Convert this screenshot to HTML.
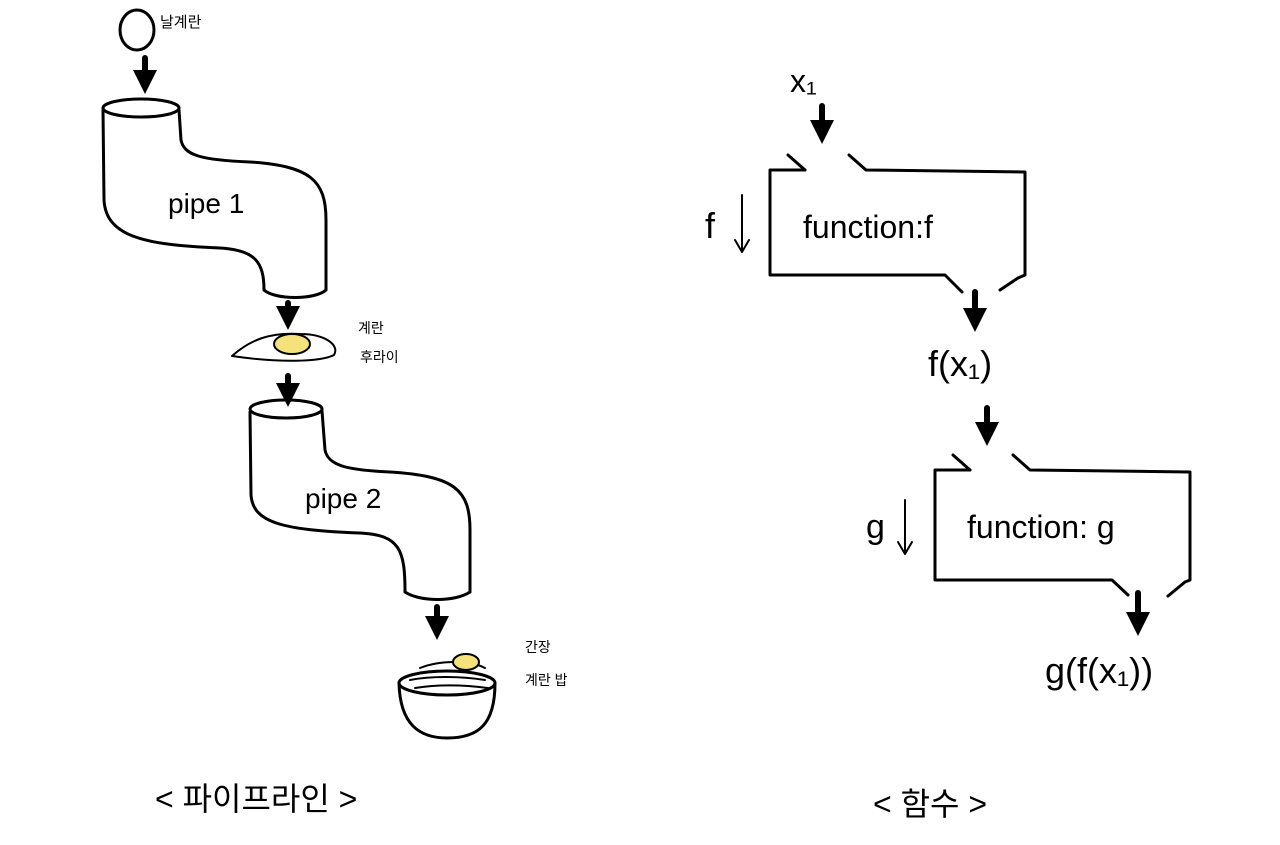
<!DOCTYPE html>
<html><head><meta charset="utf-8"><style>
html,body{margin:0;padding:0;background:#fff;}
svg{display:block}
text{font-family:"Liberation Sans","Noto Sans CJK KR",sans-serif;fill:#000}
</style></head><body>
<svg width="1280" height="845" viewBox="0 0 1280 845" xmlns="http://www.w3.org/2000/svg">
<defs>
<marker id="ah" markerWidth="4" markerHeight="4" refX="2" refY="2" orient="auto" markerUnits="strokeWidth">
<path d="M0,0 L4,2 L0,4 Z" fill="#000"/></marker>
</defs>
<g fill="none" stroke="#000" stroke-width="3" stroke-linecap="round" stroke-linejoin="round">
<!-- egg -->
<ellipse cx="137" cy="30" rx="17" ry="20"/>
<!-- thick arrows -->
<g stroke-width="6">
<line x1="145" y1="58" x2="145" y2="82" marker-end="url(#ah)"/>
<line x1="288" y1="303" x2="288" y2="318" marker-end="url(#ah)"/>
<line x1="288" y1="376" x2="288" y2="395" marker-end="url(#ah)"/>
<line x1="437" y1="607" x2="437" y2="628" marker-end="url(#ah)"/>
<line x1="822" y1="106" x2="822" y2="132" marker-end="url(#ah)"/>
<line x1="975" y1="292" x2="975" y2="320" marker-end="url(#ah)"/>
<line x1="987" y1="408" x2="987" y2="434" marker-end="url(#ah)"/>
<line x1="1138" y1="593" x2="1138" y2="624" marker-end="url(#ah)"/>
</g>
<!-- pipe1 -->
<ellipse cx="141" cy="108" rx="38" ry="9"/>
<path d="M103,110 L104,200 C106,235 140,245 220,248 C255,250 264,262 264,290"/>
<path d="M179,110 L181,140 C184,155 200,160 250,162 C310,166 326,180 326,220 L326,290"/>
<path d="M264,290 C275,300 315,300 326,290"/>
<!-- fried egg -->
<path d="M232,356 C250,340 270,332 300,334 C325,334 340,345 334,355 C320,362 280,363 232,356 Z" stroke-width="2"/>
<ellipse cx="292" cy="344" rx="18" ry="10" fill="#f5e27a" stroke-width="2"/>
<!-- pipe2 -->
<ellipse cx="286" cy="409" rx="36" ry="9"/>
<path d="M250,412 L251,495 C253,522 280,530 360,533 C400,535 405,550 405,592"/>
<path d="M322,411 L325,450 C328,465 345,470 390,472 C455,476 470,490 470,530 L470,592"/>
<path d="M405,592 C420,602 455,602 470,592"/>
<!-- bowl -->
<ellipse cx="447" cy="683" rx="48" ry="12"/>
<path d="M399,683 C400,725 420,738 447,738 C478,738 495,725 495,683"/>
<path d="M420,668 C440,660 470,660 485,668" stroke-width="2"/>
<ellipse cx="466" cy="662" rx="13" ry="8" fill="#f5e27a" stroke-width="2"/>
<path d="M410,680 C430,676 460,676 485,680 M415,688 C440,684 465,685 488,688" stroke-width="2"/>
<!-- box f -->
<path d="M805,170 L770,170 L770,275 L945,275 L962,292"/>
<path d="M1000,290 L1018,278 L1025,275 L1025,172 L866,170 L849,155"/>
<path d="M805,170 L788,155"/>
<!-- box g -->
<path d="M970,470 L935,470 L935,580 L1112,580 L1128,595"/>
<path d="M1168,596 L1185,582 L1190,580 L1190,472 L1030,470 L1013,455"/>
<path d="M970,470 L953,455"/>
<!-- small arrows -->
<g stroke-width="2">
<line x1="742" y1="195" x2="742" y2="250"/><path d="M735,240 L742,252 L749,240"/>
<line x1="905" y1="500" x2="905" y2="552"/><path d="M898,542 L905,554 L912,542"/>
</g>
</g>
<text x="160" y="27" font-size="15">날계란</text>
<text x="168" y="213" font-size="28">pipe 1</text>
<text x="305" y="508" font-size="28">pipe 2</text>
<text x="358" y="333" font-size="14">계란</text>
<text x="360" y="362" font-size="14">후라이</text>
<text x="525" y="652" font-size="14">간장</text>
<text x="525" y="685" font-size="14">계란 밥</text>
<text x="155" y="810" font-size="32">&lt; 파이프라인 &gt;</text>
<text x="873" y="815" font-size="32">&lt; 함수 &gt;</text>
<text x="790" y="92" font-size="32">x₁</text>
<text x="705" y="238" font-size="36">f</text>
<text x="803" y="238" font-size="32">function:f</text>
<text x="928" y="376" font-size="36">f(x₁)</text>
<text x="866" y="538" font-size="34">g</text>
<text x="967" y="538" font-size="32">function: g</text>
<text x="1045" y="683" font-size="36">g(f(x₁))</text>
</svg>
</body></html>
